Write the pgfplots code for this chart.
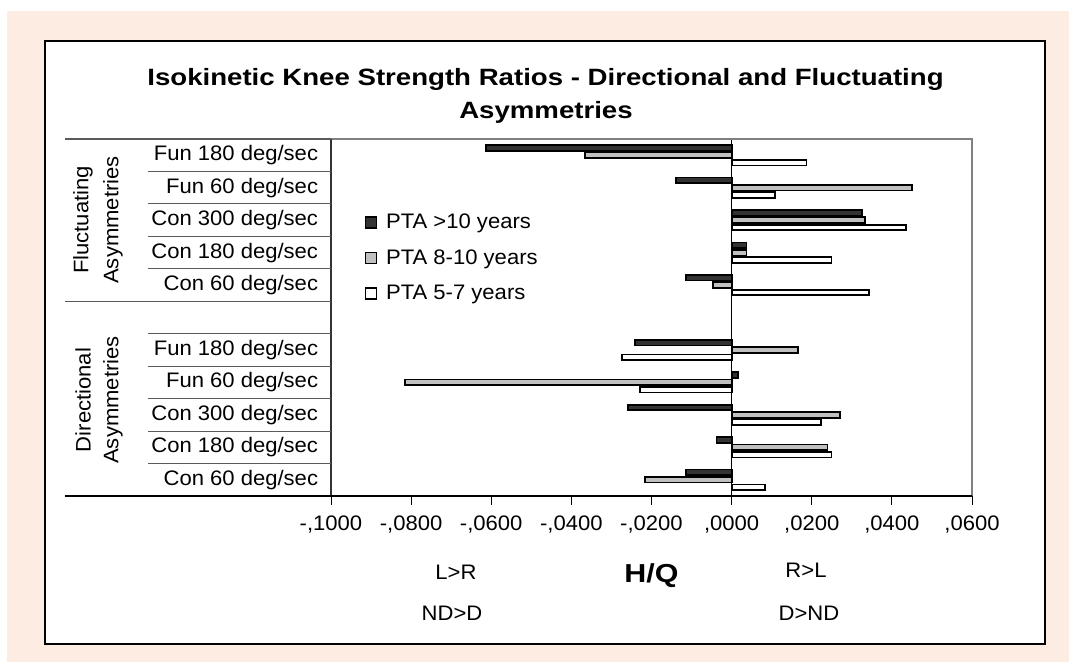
\documentclass[border=0pt]{standalone}
\usepackage{fontspec}
\setmainfont{Liberation Sans}[FakeStretch=1.05]
\newfontfamily\titlefont{Liberation Sans Bold}[FakeStretch=1.17]
\usepackage{pgfplots}
\pgfplotsset{compat=1.18}
\definecolor{peach}{RGB}{253,236,226}
\definecolor{darkbar}{RGB}{51,51,51}
\definecolor{graybar}{RGB}{192,192,192}
\definecolor{sepgray}{RGB}{90,90,90}
\newcommand\lab{\fontsize{15.75}{18}\selectfont}

\pgfplotstableread{
y    v
10  -0.0614
9   -0.0139
8    0.0326
7    0.0037
6   -0.0114
4   -0.0242
3    0.0016
2   -0.0259
1   -0.0038
0   -0.0114
}\tabA
\pgfplotstableread{
y    v
10  -0.0366
9    0.0450
8    0.0332
7    0.0037
6   -0.0047
4    0.0165
3   -0.0816
2    0.0270
1    0.0239
0   -0.0216
}\tabB
\pgfplotstableread{
y    v
10   0.0187
9    0.0109
8    0.0435
7    0.0249
6    0.0342
4   -0.0274
3   -0.0228
2    0.0223
1    0.0249
0    0.0083
}\tabC

\begin{document}
\begin{tikzpicture}
\begin{scope}[x=0.75pt,y=-0.75pt]
\fill[white] (0,0) rectangle (1069,662);
\fill[peach] (7,11) rectangle (1069,662);
\draw[line width=1.5pt, fill=white] (45,41) rectangle (1045,644);
\node[anchor=base, font=\titlefont\fontsize{17.7}{20}\selectfont] at (545.5,85) {Isokinetic Knee Strength Ratios - Directional and Fluctuating};
\node[anchor=base, font=\titlefont\fontsize{17.7}{20}\selectfont] at (546,118) {Asymmetries};
\end{scope}

\begin{axis}[
  at={(248.25pt,-372pt)}, anchor=south west,
  scale only axis, width=480.75pt, height=267.75pt,
  xmin=-0.1, xmax=0.06, ymin=-0.5, ymax=10.5,
  xbar, bar width=4.2pt,
  axis line style={draw=none},
  clip=false,
  tick pos=left,
  tick align=outside,
  major tick length=6.5pt,
  xtick={-0.1,-0.08,-0.06,-0.04,-0.02,0,0.02,0.04,0.06},
  xticklabels={{-,1000},{-,0800},{-,0600},{-,0400},{-,0200},{,0000},{,0200},{,0400},{,0600}},
  xtick style={black, line width=0.6pt},
  xticklabel style={font=\lab, anchor=north, inner sep=0pt, yshift=-8.5pt},
  ytick={0,1,2,3,4,6,7,8,9,10},
  yticklabels={Con 60 deg/sec,Con 180 deg/sec,Con 300 deg/sec,Fun 60 deg/sec,Fun 180 deg/sec,Con 60 deg/sec,Con 180 deg/sec,Con 300 deg/sec,Fun 60 deg/sec,Fun 180 deg/sec},
  ytick style={draw=none},
  yticklabel style={font=\lab, anchor=east, inner sep=0pt, xshift=-3pt},
  legend style={at={(axis description cs:0.053,0.794)}, anchor=north west, draw=none, fill=none, inner sep=0pt, outer sep=0pt, row sep=11.6pt, font=\lab,
    nodes={inner sep=0pt, text height=12pt, text depth=3pt, anchor=west},
    /tikz/every odd column/.append style={column sep=6.75pt}},
  legend cell align=left,
  legend image code/.code={\draw[#1, line width=0.9pt] (0pt,-4.1pt) rectangle (8.2pt,4.1pt);},
]
\draw[black, line width=0.75pt] (axis cs:0,-0.5) -- (axis cs:0,10.5);
\addplot[fill=darkbar, draw=black, line width=1.3pt, bar shift=5.55pt] table[x=v,y=y] {\tabA};
\addplot[fill=graybar, draw=black, line width=1.3pt, bar shift=0pt] table[x=v,y=y] {\tabB};
\addplot[fill=white, draw=black, line width=1.3pt, bar shift=-5.55pt] table[x=v,y=y] {\tabC};
\legend{PTA >10 years, PTA 8-10 years, PTA 5-7 years}
\end{axis}

\begin{scope}[x=0.75pt,y=-0.75pt]
% plot frame
\draw[gray, line width=1.1pt] (331,139) -- (972,139) -- (972,496);
\draw[black!80, line width=1.5pt] (331,139) -- (331,496);
\draw[black, line width=1.2pt] (65,496) -- (972,496);
% category table lines
\draw[sepgray, line width=1pt] (65,139) -- (331,139);
\draw[sepgray, line width=1pt] (65,301.7) -- (331,301.7);
\foreach \k in {1,2,3,4,6,7,8,9,10} {
  \draw[sepgray, line width=0.8pt] (148,{139+32.45*\k}) -- (331,{139+32.45*\k});
}
% group labels
\node[rotate=90, font=\lab] at (83,220) {Fluctuating};
\node[rotate=90, font=\lab] at (113,220) {Asymmetries};
\node[rotate=90, font=\lab] at (83,400) {Directional};
\node[rotate=90, font=\lab] at (113,400) {Asymmetries};
% bottom annotations
\node[font=\lab] at (456,572) {L>R};
\node[font=\lab] at (806,570) {R>L};
\node[font=\lab] at (452,613) {ND>D};
\node[font=\lab] at (809,613) {D>ND};
\node[font=\titlefont\fontsize{19.5}{22}\selectfont] at (651.5,576) {H/Q};
\end{scope}
\end{tikzpicture}
\end{document}
